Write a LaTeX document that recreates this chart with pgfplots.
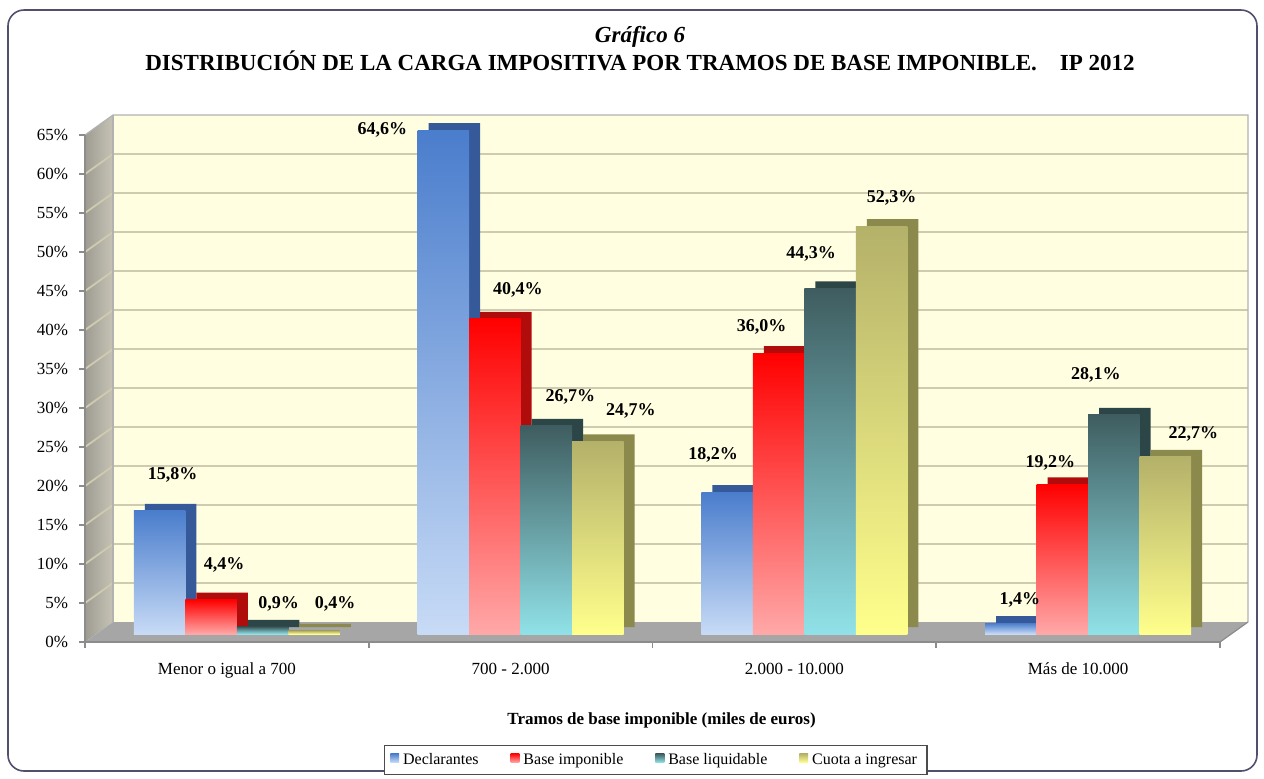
\documentclass[border=0pt]{standalone}
\usepackage{fontspec}
\setmainfont{Liberation Serif}
\usepackage{pgfplots}
\usepackage{pgfplotstable}
\pgfplotsset{compat=1.18}

\definecolor{wallback}{HTML}{FFFEE0}
\definecolor{gridc}{HTML}{CFCBB0}
\definecolor{leftwall}{HTML}{C6C3B6}
\definecolor{floorc}{HTML}{A6A6A6}
\definecolor{frameC}{HTML}{50506E}
\definecolor{axisC}{HTML}{8C8C8C}
\definecolor{bTop}{HTML}{4A7DCC}\definecolor{bBot}{HTML}{C8DBF6}\definecolor{bDep}{HTML}{36599A}
\definecolor{rTop}{HTML}{FF0000}\definecolor{rBot}{HTML}{FFA8A8}\definecolor{rDep}{HTML}{B00C0C}
\definecolor{tTop}{HTML}{3F5D60}\definecolor{tBot}{HTML}{90E2E8}\definecolor{tDep}{HTML}{2C4547}
\definecolor{yTop}{HTML}{B4B16A}\definecolor{yBot}{HTML}{FFFF8C}\definecolor{yDep}{HTML}{8B894B}

\pgfplotstableread{
x y dx dy
0 15.8 6.5 18
1 64.6 -30.5 0
2 18.2 -7 18.5
3 1.4 4.5 11.5
}\declarantes
\pgfplotstableread{
x y dx dy
0 4.4 6.5 17.5
1 40.4 11.5 14.5
2 36.0 -8.5 13
3 19.2 -6 10.5
}\baseimp
\pgfplotstableread{
x y dx dy
0 0.9 8 11.5
1 26.7 12 14.5
2 44.3 -9.5 17.5
3 28.1 -9 20
}\baseliq
\pgfplotstableread{
x y dx dy
0 0.4 10.5 13.5
1 24.7 16.5 15
2 52.3 5 14
3 22.7 14 11.5
}\cuota

\pgfplotsset{
  sDecl/.style={draw=none, top color=bTop, bottom color=bBot},
  sBimp/.style={draw=none, top color=rTop, bottom color=rBot},
  sBliq/.style={draw=none, top color=tTop, bottom color=tBot},
  sCuota/.style={draw=none, top color=yTop, bottom color=yBot},
  barat/.style={ybar, bar width=25.75pt, bar shift=#1, forget plot,
    every node near coord/.append style={xshift=#1}},
}

\begin{document}
\begin{tikzpicture}
% canvas and frame
\path (0,0) rectangle (632pt,-389pt);
\draw[frameC, line width=0.8pt, rounded corners=8pt] (4pt,-5pt) rectangle (628.5pt,-385.5pt);
% titles
\node[font=\bfseries\itshape\fontsize{11.5}{13}\selectfont] at (320pt,-18.5pt) {Gráfico 6};
\node[font=\bfseries\fontsize{11.5}{13}\selectfont] at (320pt,-30.5pt) {DISTRIBUCIÓN DE LA CARGA IMPOSITIVA POR TRAMOS DE BASE IMPONIBLE.\quad IP 2012};
% walls and floor
\fill[wallback] (56.5pt,-311pt) rectangle (624pt,-57.5pt);
\shade[left color=leftwall!80!black, right color=leftwall] (42.5pt,-321pt) -- (56.5pt,-311pt) -- (56.5pt,-57.5pt) -- (42.5pt,-67.5pt) -- cycle;
\foreach \k in {1,...,12} {
  \draw[gridc, line width=0.9pt] (42.5pt,-321pt+\k*19.5pt) -- (56.5pt,-311pt+\k*19.5pt) -- (624pt,-311pt+\k*19.5pt);
}
\draw[black!30, line width=0.6pt] (42.5pt,-67.5pt) -- (56.5pt,-57.5pt) -- (624pt,-57.5pt) -- (624pt,-311pt);
\draw[black!30, line width=0.6pt] (56.5pt,-57.5pt) -- (56.5pt,-311pt);
\fill[floorc] (42.5pt,-321pt) -- (610pt,-321pt) -- (624pt,-311pt) -- (56.5pt,-311pt) -- cycle;
\draw[black!45, line width=0.6pt] (610pt,-321pt) -- (624pt,-311pt);

% frame axis: ticks, labels
\begin{axis}[
  at={(42.5pt,-321pt)}, anchor=south west,
  scale only axis, width=567.5pt, height=253.5pt,
  xmin=-0.5, xmax=3.5, ymin=0, ymax=65,
  axis x line*=bottom, axis y line*=left,
  axis line style={axisC, line width=0.8pt, -},
  tick style={axisC, line width=0.8pt},
  tick align=outside, major tick length=3pt,
  xtick={-0.5,0.5,1.5,2.5,3.5},
  xticklabels={Menor o igual a 700, 700 - 2.000, 2.000 - 10.000, Más de 10.000, {}},
  xticklabel style={font=\fontsize{8.5}{10}\selectfont, xshift=70.94pt, yshift=-4pt, overlay},
  ytick={0,5,...,65},
  yticklabel={\pgfmathprintnumber[assume math mode=true]{\tick}\%},
  yticklabel style={font=\fontsize{8.5}{10}\selectfont, xshift=-2pt},
  xlabel={Tramos de base imponible (miles de euros)},
  xlabel style={font=\bfseries\fontsize{8.5}{10}\selectfont, at={(axis description cs:0.508,0)}, anchor=center, yshift=-39pt},
]
\end{axis}

% depth (3D side/top) bars
\begin{axis}[
  at={(53pt,-313.5pt)}, anchor=south west,
  scale only axis, width=567.5pt, height=253.5pt,
  xmin=-0.5, xmax=3.5, ymin=0, ymax=65,
  hide axis, clip=false,
  ybar=0pt, bar width=25.75pt,
]
\addplot[draw=none, fill=bDep] table[x=x,y=y] {\declarantes};
\addplot[draw=none, fill=rDep] table[x=x,y=y] {\baseimp};
\addplot[draw=none, fill=tDep] table[x=x,y=y] {\baseliq};
\addplot[draw=none, fill=yDep] table[x=x,y=y] {\cuota};
\end{axis}

% front bars, one path per bar so that each bar has its own gradient
\begin{axis}[
  at={(47.5pt,-317pt)}, anchor=south west,
  scale only axis, width=567.5pt, height=253.5pt,
  xmin=-0.5, xmax=3.5, ymin=0, ymax=65,
  hide axis, clip=false,
  visualization depends on={\thisrow{dx} \as \lx},
  visualization depends on={\thisrow{dy} \as \ly},
  nodes near coords={\pgfmathprintnumber[fixed,fixed zerofill,precision=1,use comma,assume math mode=true]{\pgfplotspointmeta}\%},
  every node near coord/.append style={text=black, anchor=center, font=\bfseries\fontsize{9}{10}\selectfont, xshift=\lx pt, yshift=\ly pt},
  legend columns=4,
  legend style={at={(0.494,-0.2485)}, anchor=center, draw=black!70, line width=0.6pt, fill=white,
    font=\fontsize{8}{9}\selectfont, inner xsep=3pt, inner ysep=1.5pt,
    nodes={text height=6pt, text depth=1.8pt},
    /tikz/every even column/.append style={column sep=14pt}},
  legend image code/.code={\path[#1, draw=none] (0pt,-1.2pt) rectangle (4.4pt,3.2pt);},
]
\pgfplotsinvokeforeach{0,1,2,3}{
  \addplot[sDecl, barat=-38.625pt, restrict x to domain=#1:#1] table[x=x,y=y] {\declarantes};
  \addplot[sBimp, barat=-12.875pt, restrict x to domain=#1:#1] table[x=x,y=y] {\baseimp};
  \addplot[sBliq, barat=12.875pt, restrict x to domain=#1:#1] table[x=x,y=y] {\baseliq};
  \addplot[sCuota, barat=38.625pt, restrict x to domain=#1:#1] table[x=x,y=y] {\cuota};
}
\addlegendimage{sDecl}\addlegendentry{Declarantes}
\addlegendimage{sBimp}\addlegendentry{Base imponible}
\addlegendimage{sBliq}\addlegendentry{Base liquidable}
\addlegendimage{sCuota}\addlegendentry{Cuota a ingresar}
\end{axis}
\end{tikzpicture}
\end{document}
